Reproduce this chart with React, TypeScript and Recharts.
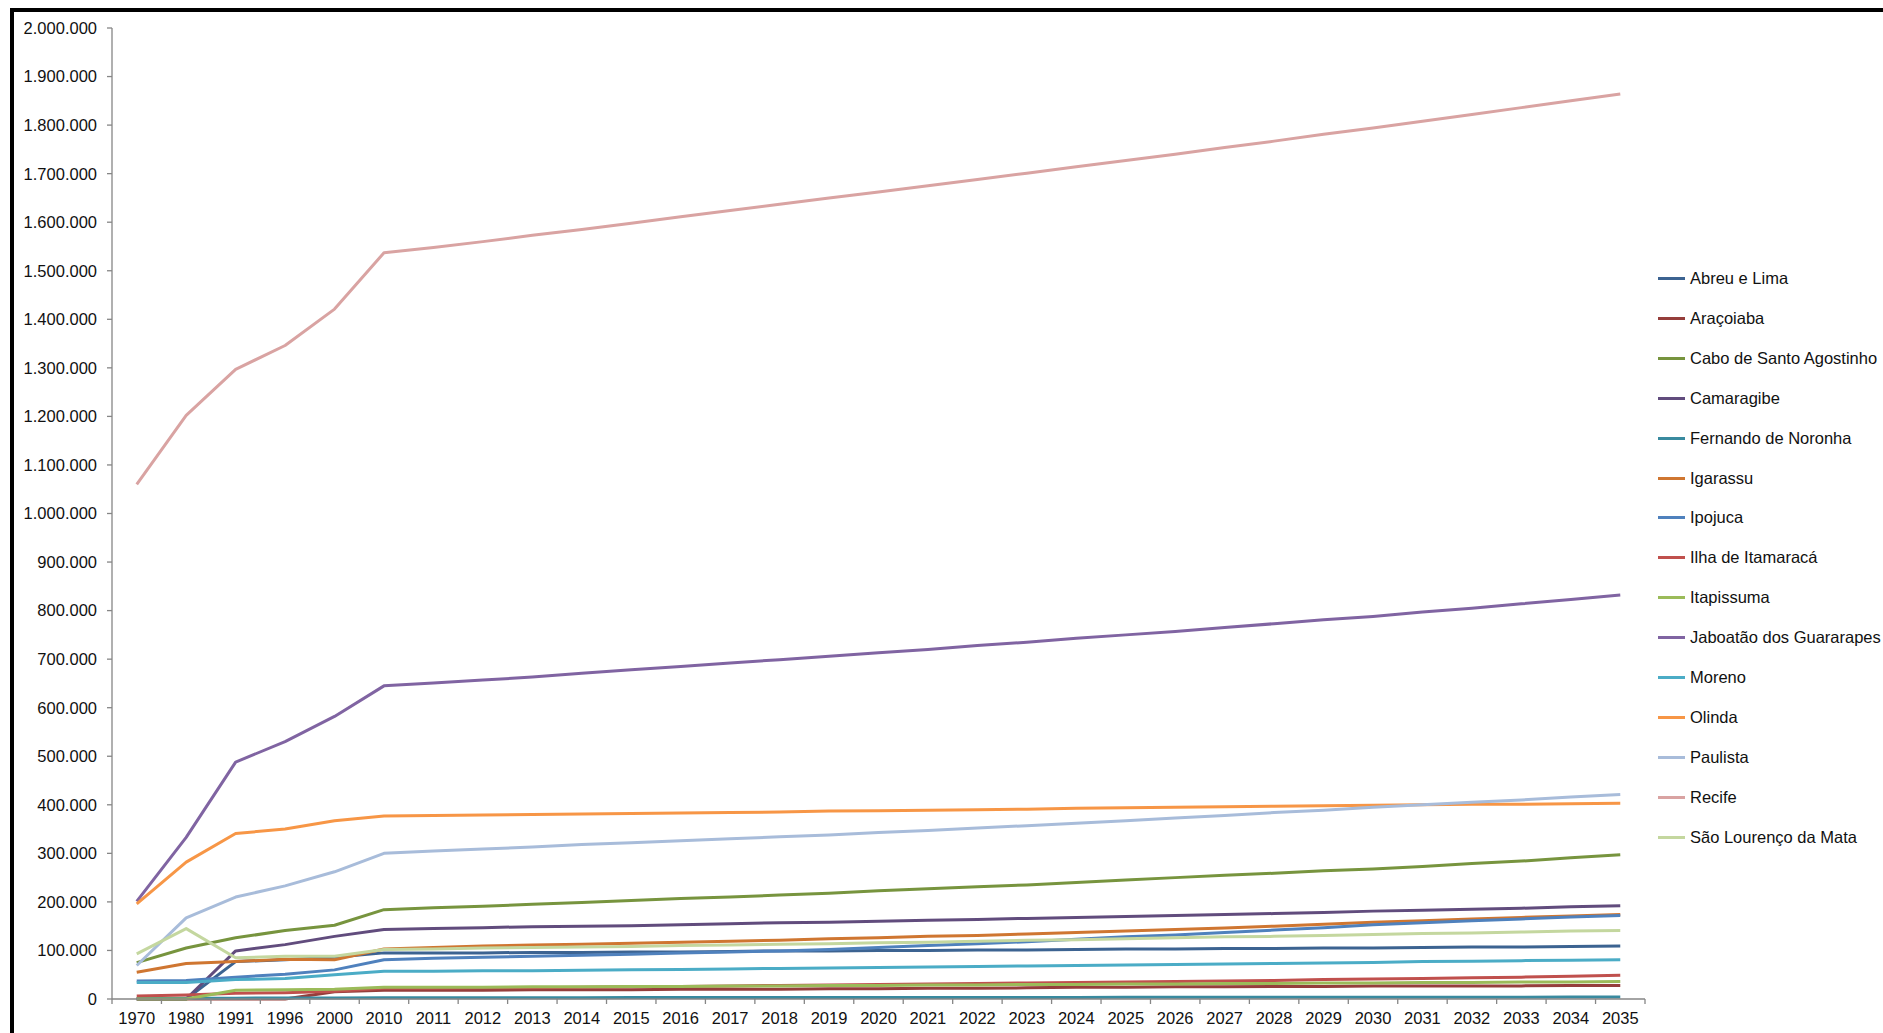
import { LineChart, Line, XAxis, YAxis } from 'recharts'

const YEARS = [
  '1970', '1980', '1991', '1996', '2000', '2010', '2011', '2012', '2013', '2014', '2015',
  '2016', '2017', '2018', '2019', '2020', '2021', '2022', '2023', '2024', '2025',
  '2026', '2027', '2028', '2029', '2030', '2031', '2032', '2033', '2034', '2035',
]

const Y_TICKS = [
  0, 100000, 200000, 300000, 400000, 500000, 600000, 700000, 800000, 900000, 1000000,
  1100000, 1200000, 1300000, 1400000, 1500000, 1600000, 1700000, 1800000, 1900000, 2000000,
]

const ABREU_E_LIMA = [0, 0, 77000, 81000, 86000, 95000, 95000, 95000, 96000, 96000, 97000, 97000, 98000, 99000, 99000, 100000, 100000, 101000, 101000, 102000, 103000, 103000, 104000, 104000, 105000, 105000, 106000, 107000, 107000, 108000, 109000]
const ARACOIABA = [0, 0, 0, 0, 15000, 18000, 18000, 18000, 19000, 19000, 19000, 20000, 20000, 20000, 21000, 21000, 22000, 22000, 23000, 24000, 24000, 25000, 25000, 26000, 26000, 27000, 27000, 27000, 27000, 28000, 28000]
const CABO = [75000, 105000, 126000, 141000, 152000, 184000, 188000, 191000, 195000, 199000, 203000, 207000, 210000, 214000, 218000, 223000, 227000, 231000, 235000, 240000, 245000, 250000, 255000, 259000, 264000, 268000, 273000, 279000, 284000, 291000, 297000]
const CAMARAGIBE = [0, 0, 99000, 112000, 129000, 143000, 145000, 147000, 149000, 150000, 151000, 153000, 155000, 157000, 158000, 160000, 162000, 164000, 166000, 168000, 170000, 172000, 174000, 176000, 178000, 181000, 183000, 185000, 187000, 190000, 192000]
const FERNANDO = [1200, 1300, 1700, 2000, 2100, 2600, 2700, 2700, 2800, 2800, 2900, 2900, 3000, 3000, 3100, 3100, 3200, 3200, 3300, 3300, 3400, 3400, 3500, 3500, 3600, 3600, 3700, 3700, 3800, 3900, 4000]
const IGARASSU = [55000, 73000, 77000, 82000, 81000, 103000, 106000, 109000, 111000, 113000, 115000, 117000, 119000, 121000, 124000, 126000, 129000, 131000, 134000, 137000, 140000, 143000, 146000, 150000, 154000, 158000, 161000, 165000, 168000, 171000, 174000]
const IPOJUCA = [37000, 38000, 45000, 51000, 60000, 81000, 84000, 86000, 88000, 90000, 92000, 95000, 97000, 99000, 102000, 106000, 110000, 114000, 118000, 123000, 128000, 132000, 137000, 142000, 147000, 153000, 157000, 161000, 165000, 169000, 172000]
const ILHA = [6000, 8000, 12000, 13000, 16000, 22000, 22000, 23000, 23000, 24000, 25000, 26000, 27000, 28000, 29000, 30000, 31000, 32000, 33000, 34000, 35000, 36000, 37000, 38000, 40000, 41000, 42000, 44000, 45000, 47000, 49000]
const ITAPISSUMA = [0, 0, 18000, 19000, 20000, 24000, 24000, 24000, 25000, 25000, 26000, 26000, 27000, 27000, 28000, 28000, 29000, 29000, 30000, 30000, 31000, 31000, 32000, 32000, 33000, 33000, 34000, 34000, 35000, 35000, 36000]
const JABOATAO = [201000, 333000, 488000, 530000, 582000, 645000, 651000, 657000, 663000, 671000, 678000, 685000, 692000, 699000, 706000, 713000, 720000, 728000, 735000, 743000, 750000, 757000, 765000, 773000, 781000, 788000, 797000, 805000, 814000, 823000, 832000]
const MORENO = [34000, 34000, 40000, 42000, 50000, 57000, 57000, 58000, 58000, 59000, 60000, 61000, 62000, 63000, 64000, 65000, 66000, 67000, 68000, 69000, 70000, 71000, 72000, 73000, 74000, 75000, 77000, 78000, 79000, 80000, 81000]
const OLINDA = [196000, 282000, 341000, 350000, 367000, 377000, 378000, 379000, 380000, 381000, 382000, 383000, 384000, 385000, 387000, 388000, 389000, 390000, 391000, 393000, 394000, 395000, 396000, 397000, 398000, 399000, 400000, 401000, 401000, 402000, 403000]
const PAULISTA = [69000, 167000, 210000, 233000, 262000, 300000, 305000, 309000, 313000, 318000, 322000, 326000, 330000, 334000, 338000, 343000, 347000, 352000, 357000, 362000, 367000, 373000, 378000, 384000, 389000, 395000, 400000, 405000, 410000, 416000, 421000]
const RECIFE = [1060000, 1202000, 1297000, 1346000, 1421000, 1537000, 1548000, 1560000, 1573000, 1585000, 1598000, 1611000, 1624000, 1637000, 1650000, 1662000, 1675000, 1688000, 1701000, 1714000, 1727000, 1740000, 1754000, 1767000, 1781000, 1794000, 1808000, 1822000, 1836000, 1850000, 1864000]
const SAO_LOURENCO = [93000, 145000, 85000, 88000, 88000, 102000, 103000, 105000, 106000, 107000, 108000, 110000, 111000, 113000, 114000, 116000, 117000, 119000, 121000, 122000, 124000, 126000, 128000, 129000, 131000, 133000, 135000, 136000, 138000, 140000, 141000]

const SERIES = [
  { name: 'Abreu e Lima', values: ABREU_E_LIMA, color: '#3c6391' },
  { name: 'Araçoiaba', values: ARACOIABA, color: '#953e3b' },
  { name: 'Cabo de Santo Agostinho', values: CABO, color: '#77943e' },
  { name: 'Camaragibe', values: CAMARAGIBE, color: '#614c7d' },
  { name: 'Fernando de Noronha', values: FERNANDO, color: '#398a9f' },
  { name: 'Igarassu', values: IGARASSU, color: '#cf7631' },
  { name: 'Ipojuca', values: IPOJUCA, color: '#4f81bd' },
  { name: 'Ilha de Itamaracá', values: ILHA, color: '#c0504d' },
  { name: 'Itapissuma', values: ITAPISSUMA, color: '#9bbb59' },
  { name: 'Jaboatão dos Guararapes', values: JABOATAO, color: '#8064a2' },
  { name: 'Moreno', values: MORENO, color: '#4bacc6' },
  { name: 'Olinda', values: OLINDA, color: '#f79646' },
  { name: 'Paulista', values: PAULISTA, color: '#a8bcda' },
  { name: 'Recife', values: RECIFE, color: '#d9a3a2' },
  { name: 'São Lourenço da Mata', values: SAO_LOURENCO, color: '#c4d79f' },
]

const data = YEARS.map((year, i) => {
  const row: Record<string, string | number> = { year }
  SERIES.forEach(s => { row[s.name] = s.values[i] })
  return row
})

const W = 1883
const H = 1033
const M = { top: 28, right: 238, bottom: 0, left: 0 }
const Y_W = 112
const BAND = (W - M.right - M.left - Y_W) / YEARS.length
const FONT = "'Liberation Sans', Arial, sans-serif"
const FS = 16.5
const AXIS = '#868686'
const TEXT = '#111'

function fmt(v: number) {
  return String(v).replace(/\B(?=(\d{3})+(?!\d))/g, '.')
}

// eslint-disable-next-line @typescript-eslint/no-explicit-any
function XTick({ x, y, payload, index }: any) {
  const top = y - 13
  return (
    <g>
      <line x1={x - BAND / 2} x2={x - BAND / 2} y1={top} y2={top + 5} stroke={AXIS} strokeWidth={1.3} />
      {index === YEARS.length - 1 && (
        <line x1={x + BAND / 2} x2={x + BAND / 2} y1={top} y2={top + 5} stroke={AXIS} strokeWidth={1.3} />
      )}
      <text x={x} y={y} dy="0.71em" textAnchor="middle" fill={TEXT} fontSize={FS} fontFamily={FONT}>
        {payload.value}
      </text>
    </g>
  )
}

export default function App() {
  return (
    <div style={{ position: 'absolute', left: 0, top: 0, width: W, height: H, background: '#fff', overflow: 'hidden', fontFamily: FONT }}>
      <div style={{
        position: 'absolute', left: 10, top: 8, width: W - 10, height: H - 8,
        borderTop: '4px solid #000', borderLeft: '4px solid #000', boxSizing: 'border-box',
      }} />
      <div style={{ position: 'absolute', left: 0, top: 0 }}>
        <LineChart width={W} height={H} data={data} margin={M}>
          <XAxis
            dataKey="year"
            interval={0}
            height={34}
            padding={{ left: BAND / 2, right: BAND / 2 }}
            axisLine={{ stroke: AXIS, strokeWidth: 1.3 }}
            tickLine={false}
            tickSize={0}
            tickMargin={13}
            tick={<XTick />}
          />
          <YAxis
            width={Y_W}
            domain={[0, 2000000]}
            ticks={Y_TICKS}
            interval={0}
            tickFormatter={fmt}
            axisLine={{ stroke: AXIS, strokeWidth: 1.3 }}
            tickLine={{ stroke: AXIS, strokeWidth: 1.3 }}
            tickSize={5}
            tickMargin={10}
            tick={{ fill: TEXT, fontSize: FS, fontFamily: FONT }}
          />
          {SERIES.map(s => (
            <Line
              key={s.name}
              type="linear"
              dataKey={s.name}
              stroke={s.color}
              strokeWidth={3}
              strokeLinejoin="round"
              dot={false}
              activeDot={false}
              isAnimationActive={false}
            />
          ))}
        </LineChart>
      </div>
      <div style={{ position: 'absolute', left: 1658, top: 258.4 }}>
        {SERIES.map(s => (
          <div key={s.name} style={{ height: 39.94, display: 'flex', alignItems: 'center', whiteSpace: 'nowrap' }}>
            <span style={{ display: 'inline-block', width: 27, height: 3, background: s.color, marginRight: 5 }} />
            <span style={{ fontSize: FS, color: TEXT }}>{s.name}</span>
          </div>
        ))}
      </div>
    </div>
  )
}
